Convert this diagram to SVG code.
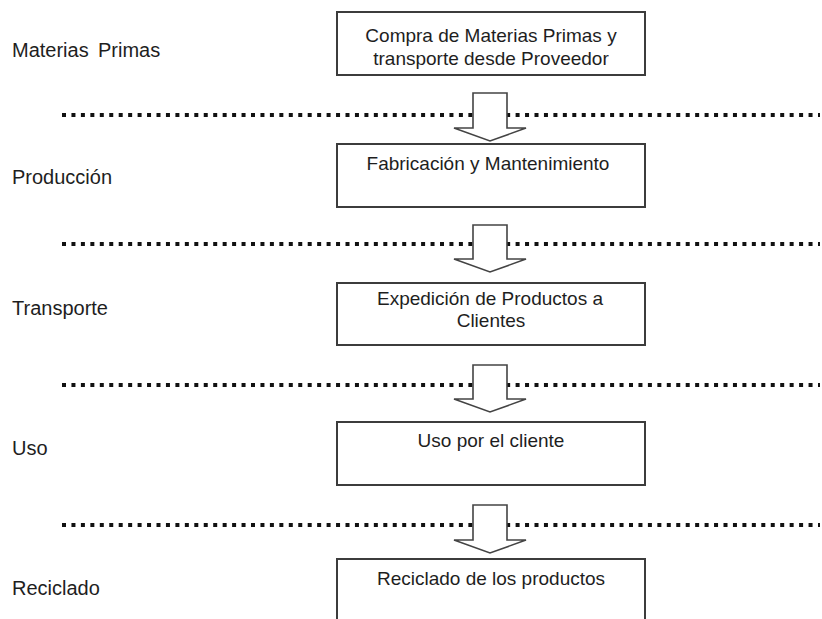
<svg xmlns="http://www.w3.org/2000/svg" width="822" height="619" viewBox="0 0 822 619">
<style>
.bg{fill:#ffffff}
.box{fill:#ffffff;stroke:#3c3c3c;stroke-width:2}
.dot{stroke:#111111;stroke-width:4;stroke-dasharray:4 5.45;fill:none}
.arr{fill:#ffffff;stroke:#444444;stroke-width:1.6;stroke-linejoin:miter}
.t{font-family:"Liberation Sans",Arial,sans-serif;font-size:19px;fill:#1e1e1e}
.l{font-family:"Liberation Sans",Arial,sans-serif;font-size:20px;fill:#1e1e1e}
.c{text-anchor:middle}
</style>
<rect class="bg" x="0" y="0" width="822" height="619"/>
<g id="stage-labels">
<text class="l" x="12" y="57">Materias<tspan x="98">Primas</tspan></text>
<text class="l" x="12" y="184">Producción</text>
<text class="l" x="12" y="315">Transporte</text>
<text class="l" x="12" y="455">Uso</text>
<text class="l" x="12" y="595">Reciclado</text>
</g>
<g id="separators">
<line class="dot" x1="62" y1="115" x2="820" y2="115"/>
<line class="dot" x1="62" y1="244" x2="820" y2="244"/>
<line class="dot" x1="62" y1="385" x2="820" y2="385"/>
<line class="dot" x1="62" y1="525" x2="820" y2="525"/>
</g>
<g id="node-compra">
<rect class="box" x="337" y="12" width="308" height="63"/>
<text class="t c" x="491" y="42">Compra de Materias Primas y</text>
<text class="t c" x="491" y="65">transporte desde Proveedor</text>
</g>
<g id="node-fabricacion">
<rect class="box" x="337" y="144" width="308" height="63"/>
<text class="t c" x="488" y="170">Fabricación y Mantenimiento</text>
</g>
<g id="node-expedicion">
<rect class="box" x="337" y="283" width="308" height="62"/>
<text class="t c" x="490" y="305">Expedición de Productos a</text>
<text class="t c" x="491" y="327">Clientes</text>
</g>
<g id="node-uso">
<rect class="box" x="337" y="422" width="308" height="63"/>
<text class="t c" x="491" y="447">Uso por el cliente</text>
</g>
<g id="node-reciclado">
<rect class="box" x="337" y="559" width="308" height="70"/>
<text class="t c" x="491" y="585">Reciclado de los productos</text>
</g>
<g id="connectors">
<polygon class="arr" points="473,93 507,93 507,128 526,128 490,141 454,128 473,128"/>
<polygon class="arr" points="473,225 507,225 507,259 526,259 490,272 454,259 473,259"/>
<polygon class="arr" points="473,365 507,365 507,399 526,399 490,412 454,399 473,399"/>
<polygon class="arr" points="473,505 507,505 507,540 526,540 490,553 454,540 473,540"/>
</g>
</svg>
